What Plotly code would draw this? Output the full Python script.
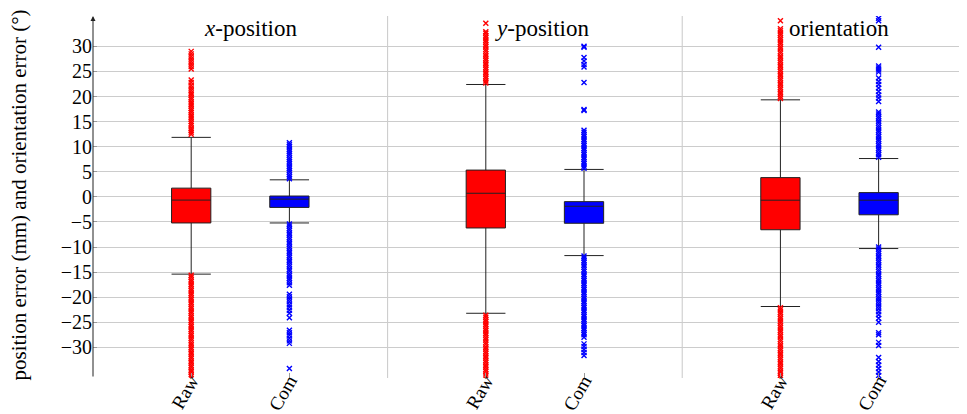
import plotly.graph_objects as go

# ---------------- data ----------------
panels = ["<i>x</i>-position", "<i>y</i>-position", "orientation"]
methods = ["Raw", "Com"]
y_ticks = [-30, -25, -20, -15, -10, -5, 0, 5, 10, 15, 20, 25, 30]

# box statistics per panel: [Raw, Com]
q1 = [[-5.2, -2.1], [-6.2, -5.26], [-6.55, -3.57]]
median = [[-0.64, -0.45], [0.72, -1.87], [-0.66, -0.66]]
q3 = [[1.74, 0.17], [5.34, -0.95], [3.84, 0.85]]
lower_whisker = [[-15.4, -5.2], [-23.2, -11.7], [-21.85, -10.3]]
upper_whisker = [[11.86, 3.4], [22.4, 5.47], [19.34, 7.64]]

xpos_raw_out = [12.5, 12.9, 13.3, 13.7, 14.2, 14.6, 15.0, 15.5, 15.9, 16.3, 16.8, 17.2,
                17.6, 18.1, 18.5, 18.9, 19.4, 19.8, 20.3, 20.7, 21.2, 21.7, 22.2, 22.8,
                23.3, 25.5, 26.0, 26.5, 27.0, 27.5, 28.0, 28.5, 29.0,
                -15.6, -16.0, -16.5, -16.9, -17.4, -17.8, -18.3, -18.7, -19.2, -19.6,
                -20.1, -20.5, -21.0, -21.4, -21.9, -22.3, -22.8, -23.2, -23.7, -24.1,
                -24.6, -25.0, -25.5, -25.9, -26.4, -26.8, -27.3, -27.7, -28.2, -28.6,
                -29.1, -29.5, -30.0, -30.4, -30.9, -31.3, -31.8, -32.2, -32.7, -33.1,
                -33.6, -34.0, -34.5, -34.9, -35.4, -35.8]
xpos_com_out = [3.6, 4.0, 4.4, 4.9, 5.3, 5.7, 6.1, 6.6, 7.0, 7.4, 7.8, 8.3, 8.7, 9.1,
                9.5, 10.0, 10.4, 10.8,
                -5.4, -5.8, -6.3, -6.7, -7.2, -7.6, -8.1, -8.5, -9.0, -9.4, -9.9, -10.3,
                -10.8, -11.2, -11.7, -12.1, -12.6, -13.0, -13.5, -13.9, -14.4, -14.8,
                -15.3, -15.7, -16.2, -16.6, -17.1, -17.6, -19.4, -19.9, -20.4, -20.9,
                -21.5, -22.0, -22.6, -23.2, -24.1, -26.6, -27.1, -27.6, -28.2, -28.7,
                -29.2, -34.2]
ypos_raw_out = [22.7, 23.1, 23.6, 24.0, 24.5, 24.9, 25.4, 25.8, 26.3, 26.7, 27.2, 27.6,
                28.1, 28.5, 29.0, 29.4, 29.9, 30.3, 30.8, 31.2, 31.7, 32.1, 32.6, 32.9,
                34.6,
                -23.6, -24.0, -24.5, -24.9, -25.4, -25.8, -26.3, -26.7, -27.2, -27.6,
                -28.1, -28.5, -29.0, -29.4, -29.9, -30.3, -30.8, -31.2, -31.7, -32.1,
                -32.6, -33.0, -33.5, -33.9, -34.4, -34.8, -35.3, -35.7]
ypos_com_out = [30.0, 29.8, 27.8, 27.1, 26.4, 25.9, 22.8, 17.4, 17.2, 13.3, 12.9, 12.4,
                12.0, 11.5, 11.1, 10.6, 10.2, 9.7, 9.3, 8.8, 8.4, 7.9, 7.5, 7.0, 6.6, 6.1,
                5.7,
                -11.8, -12.2, -12.7, -13.1, -13.6, -14.0, -14.5, -14.9, -15.4, -15.8,
                -16.3, -16.7, -17.2, -17.6, -18.1, -18.5, -19.0, -19.4, -19.9, -20.3,
                -20.8, -21.2, -21.7, -22.1, -22.6, -23.0, -23.5, -23.9, -24.4, -24.8,
                -25.3, -25.7, -26.2, -26.6, -27.1, -27.5, -28.0, -29.3, -29.8, -30.4,
                -31.0, -31.6]
orient_raw_out = [19.6, 20.0, 20.5, 20.9, 21.4, 21.8, 22.3, 22.7, 23.2, 23.6, 24.1, 24.5,
                  25.0, 25.4, 25.9, 26.3, 26.8, 27.2, 27.7, 28.1, 28.6, 29.0, 29.5, 29.9,
                  30.4, 30.8, 31.3, 31.7, 32.2, 32.6, 33.1, 33.5, 35.1,
                  -22.1, -22.5, -23.0, -23.4, -23.9, -24.3, -24.8, -25.2, -25.7, -26.1,
                  -26.6, -27.0, -27.5, -27.9, -28.4, -28.8, -29.3, -29.7, -30.2, -30.6,
                  -31.1, -31.5, -32.0, -32.4, -32.9, -33.3, -33.8, -34.2, -34.7, -35.1,
                  -35.6, -36.0]
orient_com_out = [35.6, 35.1, 29.8, 26.1, 25.7, 25.3, 24.9, 23.7, 23.0, 22.4, 21.7, 21.0,
                  20.3, 19.7, 19.0, 16.9, 16.5, 16.0, 15.6, 15.1, 14.7, 14.2, 13.8, 13.3,
                  12.9, 12.4, 12.0, 11.5, 11.1, 10.6, 10.2, 9.7, 9.3, 8.8, 8.4, 7.9,
                  -10.0, -10.4, -10.9, -11.3, -11.8, -12.2, -12.7, -13.1, -13.6, -14.0,
                  -14.5, -14.9, -15.4, -15.8, -16.3, -16.7, -17.2, -17.6, -18.1, -18.5,
                  -19.0, -19.4, -19.9, -20.3, -20.8, -21.3, -21.8, -22.3, -22.9, -23.5,
                  -24.2, -25.0, -27.1, -27.5, -29.0, -29.6, -32.0, -32.8, -33.5, -34.2,
                  -34.9, -35.6]
outliers = [[xpos_raw_out, xpos_com_out], [ypos_raw_out, ypos_com_out],
            [orient_raw_out, orient_com_out]]

# ---------------- styling ----------------
colors = ["#ff0000", "#0000ff"]
FONT = "Liberation Serif"
positions = [[1, 2], [4, 5], [7, 8]]
title_x = [1.6, 4.57, 7.6]

fig = go.Figure()
for p in range(3):
    for m in range(2):
        fig.add_trace(go.Box(
            x=[positions[p][m]], q1=[q1[p][m]], median=[median[p][m]], q3=[q3[p][m]],
            lowerfence=[lower_whisker[p][m]], upperfence=[upper_whisker[p][m]],
            width=0.4, whiskerwidth=1, boxpoints=False,
            fillcolor=colors[m], line=dict(color="#222222", width=1),
            showlegend=False, hoverinfo="skip"))
for p in range(3):
    for m in range(2):
        vals = outliers[p][m]
        fig.add_trace(go.Scatter(
            x=[positions[p][m]] * len(vals), y=vals, mode="markers",
            marker=dict(symbol="x-thin-open", size=5,
                        line=dict(color=colors[m], width=1.4), color=colors[m]),
            showlegend=False, hoverinfo="skip"))

for xs in [3, 6]:
    fig.add_shape(type="line", xref="x", yref="paper", x0=xs, x1=xs, y0=0, y1=1,
                  line=dict(color="#c8c8c8", width=1), layer="below")

for p in range(3):
    fig.add_annotation(x=title_x[p], y=33.6, xref="x", yref="y", text=panels[p],
                       showarrow=False, font=dict(family=FONT, size=23, color="black"),
                       xanchor="center", yanchor="middle")

# y-axis arrow
fig.add_annotation(x=0, y=36.05, ax=0, ay=-36.1, xref="x", yref="y", axref="x", ayref="y",
                   text="", showarrow=True, arrowhead=2, arrowsize=1, arrowwidth=1,
                   arrowcolor="#222222")

fig.add_annotation(x=-0.085, y=0.506, xref="paper", yref="paper",
                   text="position error (mm) and orientation error (°)", textangle=-90,
                   showarrow=False, font=dict(family=FONT, size=21, color="black"),
                   xanchor="center", yanchor="middle")

# the page body adds an 8px offset; size the figure to compensate
fig.update_layout(
    width=959, height=406, margin=dict(l=85, r=0, t=8, b=36),
    plot_bgcolor="white", paper_bgcolor="white", boxmode="overlay",
    font=dict(family=FONT, size=20, color="black"),
    xaxis=dict(range=[0, 8.9], tickvals=[1, 2, 4, 5, 7, 8], ticktext=methods * 3,
               tickangle=-60, ticks="inside", ticklen=5, tickcolor="#999999",
               ticklabelstandoff=-13,
               showgrid=False, zeroline=False, showline=False, automargin=False,
               tickfont=dict(family=FONT, size=19, color="black")),
    yaxis=dict(range=[-36.1, 36.05], tickvals=y_ticks,
               ticktext=[str(v).replace("-", "\u2212") for v in y_ticks],
               ticks="inside", ticklen=4, tickcolor="#999999",
               showgrid=True, gridcolor="#cccccc", gridwidth=1, zeroline=False,
               showline=False, automargin=False,
               tickfont=dict(family=FONT, size=20, color="black")),
)

fig.write_html("out.html")
